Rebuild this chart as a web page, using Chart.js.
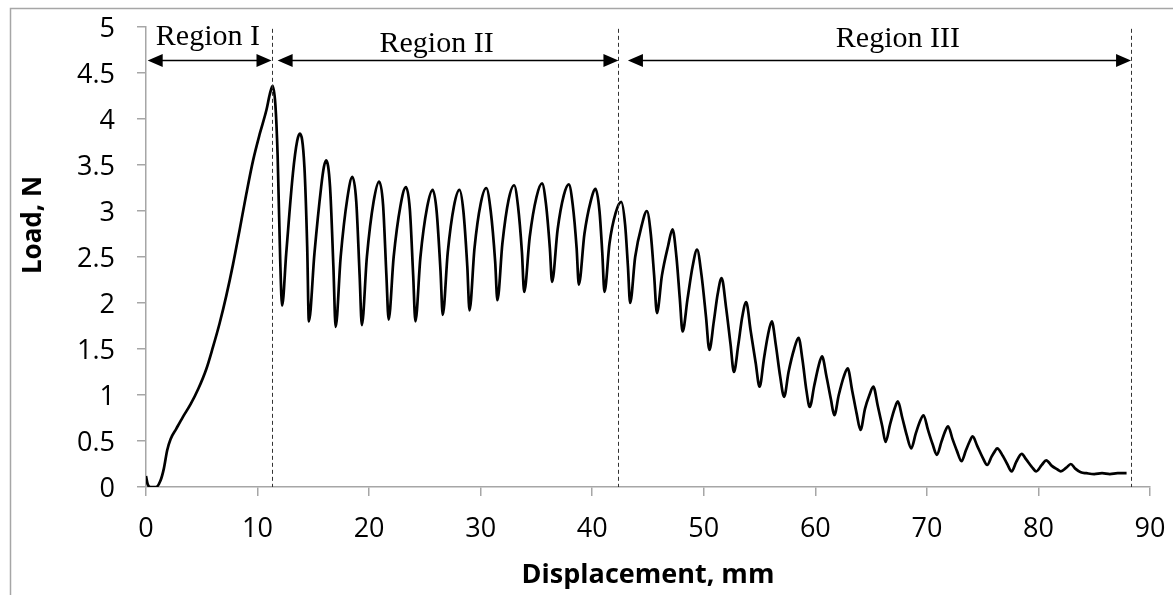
<!DOCTYPE html>
<html>
<head>
<meta charset="utf-8">
<script src="https://cdn.jsdelivr.net/npm/chart.js@4.4.1/dist/chart.umd.min.js"></script>
<style>
  html, body { margin: 0; padding: 0; background: #ffffff; }
  #wrap { width: 1173px; height: 595px; position: relative; }
</style>
</head>
<body>
<div id="wrap"><canvas id="c" width="1173" height="595"></canvas></div>
<script>
// ---- Data ----
const displacement = [
  0, 0.15, 0.4, 0.9, 1.3, 1.6, 1.9, 2.2, 2.7, 3.3, 4.0, 4.7, 5.4, 6.0, 6.6, 7.2, 7.8, 8.4, 9.0, 9.6, 10.2, 10.8, 11.1, 11.35,
  11.6, 11.8, 12.03, 12.2, 12.57, 13.17, 13.55, 13.8, 14.2, 14.45, 14.6, 15.1, 15.7, 15.95, 16.15, 16.5, 16.8, 17.0,
  17.45, 18.05, 18.5, 18.85, 19.15, 19.35, 19.8, 20.4, 20.9, 21.25, 21.55, 21.75, 22.2, 22.8, 23.3, 23.65, 23.95, 24.15,
  24.6, 25.2, 25.7, 26.05, 26.4, 26.6, 27.05, 27.6, 28.1, 28.45, 28.8, 29.0, 29.45, 30.0, 30.5, 30.9, 31.3, 31.5,
  31.95, 32.5, 33.0, 33.35, 33.7, 33.9, 34.4, 35.0, 35.5, 35.85, 36.2, 36.4, 36.9, 37.45, 37.9, 38.25, 38.6, 38.8,
  39.3, 39.85, 40.3, 40.65, 40.9, 41.1, 41.55, 42.1, 42.6, 42.95, 43.2, 43.4, 43.85, 44.45, 44.9, 45.25, 45.55, 45.8,
  46.25, 46.8, 47.2, 47.55, 47.85, 48.1, 48.55, 49.0, 49.4, 49.8, 50.2, 50.5, 50.9, 51.25, 51.6, 52.0, 52.4, 52.7,
  53.1, 53.45, 53.8, 54.2, 54.65, 55.0, 55.4, 55.75, 56.1, 56.45, 56.85, 57.2, 57.6, 58.1, 58.5, 58.85, 59.2, 59.5,
  59.9, 60.3, 60.6, 61.0, 61.4, 61.7, 62.1, 62.55, 62.9, 63.3, 63.7, 64.05, 64.45, 64.85, 65.2, 65.6, 66.0, 66.3,
  66.7, 67.1, 67.4, 67.8, 68.2, 68.6, 69.0, 69.4, 69.7, 70.1, 70.5, 70.9, 71.3, 71.65, 71.9, 72.3, 72.7, 73.1,
  73.5, 73.85, 74.1, 74.5, 75.0, 75.4, 75.8, 76.1, 76.3, 76.8, 77.2, 77.6, 78.0, 78.5, 78.9, 79.4, 79.8,
  80.3, 80.7, 81.2, 81.7, 82.0, 82.5, 82.9, 83.3, 83.8, 84.3, 85.0, 85.7, 86.4, 87.1, 87.9
];
const load = [
  0.12, 0.03, 0.0, 0.0, 0.07, 0.2, 0.4, 0.52, 0.63, 0.76, 0.9, 1.07, 1.28, 1.52, 1.78, 2.08, 2.42, 2.8, 3.19, 3.55, 3.84, 4.1, 4.27, 4.36,
  4.15, 3.6, 2.47, 1.97, 2.54, 3.41, 3.76, 3.84, 3.48, 2.61, 1.80, 2.54, 3.26, 3.48, 3.55, 3.26, 2.39, 1.74,
  2.5, 3.14, 3.37, 3.1, 2.3, 1.76, 2.5, 3.1, 3.32, 3.07, 2.3, 1.82, 2.5, 3.05, 3.26, 3.02, 2.3, 1.80,
  2.5, 3.04, 3.23, 3.0, 2.35, 1.87, 2.55, 3.05, 3.23, 3.0, 2.4, 1.92, 2.6, 3.08, 3.25, 3.0, 2.45, 2.03,
  2.65, 3.12, 3.28, 3.05, 2.55, 2.12, 2.72, 3.15, 3.30, 3.08, 2.6, 2.23, 2.8, 3.17, 3.29, 3.07, 2.6, 2.20,
  2.75, 3.1, 3.24, 3.0, 2.55, 2.12, 2.65, 2.98, 3.10, 2.85, 2.4, 2.00, 2.5, 2.85, 3.00, 2.75, 2.3, 1.89,
  2.3, 2.62, 2.80, 2.5, 2.05, 1.69, 2.05, 2.4, 2.58, 2.3, 1.85, 1.49, 1.8, 2.1, 2.27, 1.95, 1.55, 1.25,
  1.55, 1.85, 2.01, 1.7, 1.35, 1.09, 1.4, 1.65, 1.80, 1.55, 1.2, 0.98, 1.25, 1.5, 1.62, 1.38, 1.05, 0.87,
  1.1, 1.32, 1.42, 1.2, 0.95, 0.78, 1.0, 1.2, 1.29, 1.05, 0.8, 0.62, 0.85, 1.0, 1.09, 0.88, 0.66, 0.49,
  0.68, 0.85, 0.93, 0.75, 0.56, 0.42, 0.58, 0.72, 0.78, 0.62, 0.47, 0.35, 0.49, 0.61, 0.66, 0.52, 0.39, 0.28,
  0.4, 0.5, 0.55, 0.45, 0.32, 0.24, 0.33, 0.39, 0.42, 0.34, 0.25, 0.17, 0.27, 0.36, 0.3, 0.22, 0.17,
  0.24, 0.29, 0.23, 0.19, 0.17, 0.21, 0.25, 0.2, 0.16, 0.15, 0.14, 0.15, 0.14, 0.15, 0.15
];
const xTicks = [0, 10, 20, 30, 40, 50, 60, 70, 80, 90];
const yTicks = [0, 0.5, 1, 1.5, 2, 2.5, 3, 3.5, 4, 4.5, 5];
const regionLabels = ['Region I', 'Region II', 'Region III'];
const regionLabelX = [5.55, 26.05, 67.4];
const regionLabelY = [4.80, 4.73, 4.78];
const boundaryX = [11.25, 42.3, 88.3];
const arrowFrom = [0.15, 11.8, 43.2];
const arrowTo = [11.25, 42.35, 88.3];
const arrowY = 4.64;

const points = displacement.map((d, i) => ({ x: d, y: load[i] }));

const annotations = {
  id: 'annotations',
  beforeDraw(chart) {
    const ctx = chart.ctx;
    ctx.save();
    ctx.strokeStyle = '#a6a6a6';
    ctx.lineWidth = 1.5;
    ctx.beginPath();
    ctx.moveTo(10.5, 595);
    ctx.lineTo(10.5, 8.5);
    ctx.lineTo(1173, 8.5);
    ctx.stroke();
    ctx.restore();
  },
  afterDatasetsDraw(chart) {
    const ctx = chart.ctx;
    const xs = chart.scales.x, ys = chart.scales.y;
    ctx.save();
    // dashed boundaries
    ctx.strokeStyle = '#333333';
    ctx.lineWidth = 1;
    ctx.setLineDash([4, 3]);
    boundaryX.forEach((b) => {
      const px = Math.round(xs.getPixelForValue(b)) + 0.5;
      ctx.beginPath();
      ctx.moveTo(px, ys.getPixelForValue(4.98));
      ctx.lineTo(px, ys.getPixelForValue(0));
      ctx.stroke();
    });
    ctx.setLineDash([]);
    // arrows
    const ay = Math.round(ys.getPixelForValue(arrowY)) + 0.5;
    ctx.strokeStyle = '#000';
    ctx.fillStyle = '#000';
    ctx.lineWidth = 1.5;
    const head = (tip, dir) => {
      ctx.beginPath();
      ctx.moveTo(tip, ay);
      ctx.lineTo(tip - dir * 15, ay - 6.5);
      ctx.lineTo(tip - dir * 15, ay + 6.5);
      ctx.closePath();
      ctx.fill();
    };
    arrowFrom.forEach((f, i) => {
      const x1 = xs.getPixelForValue(f), x2 = xs.getPixelForValue(arrowTo[i]);
      ctx.beginPath();
      ctx.moveTo(x1 + 10, ay);
      ctx.lineTo(x2 - 10, ay);
      ctx.stroke();
      head(x1, -1);
      head(x2, 1);
    });
    // region labels
    ctx.font = '30px "Liberation Serif", "Times New Roman", serif';
    ctx.textAlign = 'center';
    ctx.textBaseline = 'alphabetic';
    regionLabels.forEach((t, i) => {
      ctx.fillText(t, xs.getPixelForValue(regionLabelX[i]), ys.getPixelForValue(regionLabelY[i]));
    });
    // y-axis title
    ctx.font = 'bold 26px "Open Sans", sans-serif';
    ctx.textAlign = 'center';
    ctx.textBaseline = 'middle';
    ctx.translate(34, (chart.chartArea.top + chart.chartArea.bottom) / 2 - 32);
    ctx.rotate(-Math.PI / 2);
    ctx.fillText('Load, N', 0, 0);
    ctx.restore();
  }
};

new Chart(document.getElementById('c'), {
  type: 'line',
  data: {
    datasets: [{
      data: points,
      borderColor: '#000000',
      borderWidth: 2.7,
      pointRadius: 0,
      fill: false,
      cubicInterpolationMode: 'monotone'
    }]
  },
  options: {
    responsive: false,
    animation: false,
    events: [],
    layout: { padding: { left: 0, right: 23, top: 27, bottom: 0 } },
    plugins: { legend: { display: false }, tooltip: { enabled: false } },
    scales: {
      x: {
        type: 'linear',
        min: xTicks[0],
        max: xTicks[xTicks.length - 1],
        afterBuildTicks(scale) { scale.ticks = xTicks.map(v => ({ value: v })); },
        afterFit(scale) { scale.height = 108; scale.paddingLeft = 0; scale.paddingRight = 0; },
        grid: { drawOnChartArea: false, tickLength: 9, color: '#a6a6a6', lineWidth: 1.5 },
        border: { color: '#a6a6a6', width: 1.5 },
        ticks: { color: '#000', padding: 17, maxRotation: 0, callback: (v) => String(v),
                 font: { family: '"Open Sans", sans-serif', size: 27 } },
        title: { display: true, text: 'Displacement, mm', color: '#000', padding: { top: 0, bottom: 3 },
                 font: { family: '"Open Sans", sans-serif', size: 27, weight: 'bold' } }
      },
      y: {
        min: yTicks[0],
        max: yTicks[yTicks.length - 1],
        afterBuildTicks(scale) { scale.ticks = yTicks.map(v => ({ value: v })); },
        afterFit(scale) { scale.width = 146; scale.paddingTop = 0; scale.paddingBottom = 0; },
        grid: { drawOnChartArea: false, tickLength: 9, color: '#a6a6a6', lineWidth: 1.5 },
        border: { color: '#a6a6a6', width: 1.5 },
        ticks: { color: '#000', padding: 22, labelOffset: 2, callback: (v) => String(v),
                 font: { family: '"Open Sans", sans-serif', size: 27 } }
      }
    }
  },
  plugins: [annotations]
});
</script>
</body>
</html>
